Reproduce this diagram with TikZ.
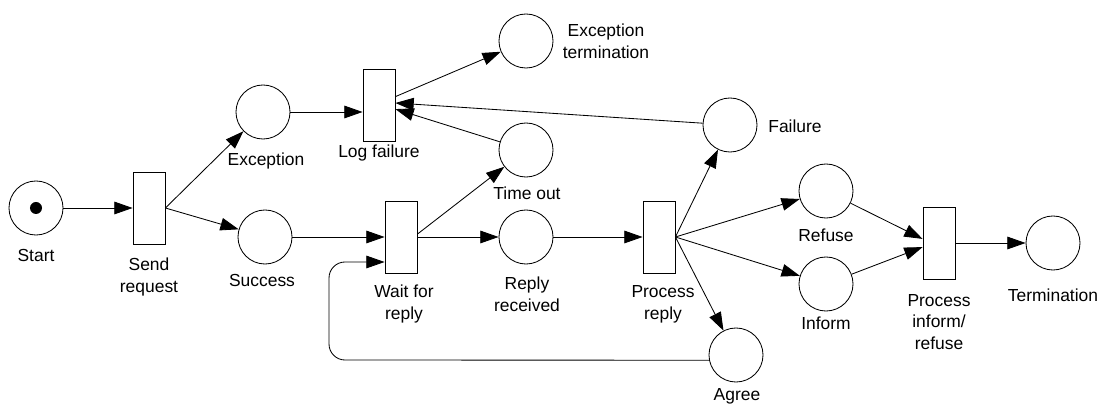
\documentclass[tikz,border=0pt]{standalone}
\usepackage{fontspec}
\setmainfont{Liberation Sans}
\usetikzlibrary{arrows.meta}

\begin{document}
\begin{tikzpicture}[
  x=0.025cm, y=-0.025cm,
  place/.style={circle, draw, line width=0.6pt, minimum size=1.35cm, inner sep=0pt},
  trans/.style={rectangle, draw, line width=0.6pt, minimum width=0.8cm, minimum height=1.8cm, inner sep=0pt},
  lbl/.style={font=\fontsize{12.4pt}{15.4pt}\selectfont, align=center, inner sep=0pt},
  arc/.style={line width=0.6pt, -{Triangle[length=13pt,width=9pt]}},
]
\useasboundingbox (0,0) rectangle (1107,405);

% places
\node[place] (start)  at (36,208)  {};
\node[place] (exc)    at (263,112) {};
\node[place] (succ)   at (265,237) {};
\node[place] (exterm) at (526,41)  {};
\node[place] (tout)   at (526,150) {};
\node[place] (rrec)   at (526,237) {};
\node[place] (fail)   at (730,125) {};
\node[place] (refuse) at (826,191) {};
\node[place] (inform) at (826,284) {};
\node[place] (term)   at (1053,243) {};
\node[place] (agree)  at (736,355) {};

% token in the initial place
\node[circle, fill, minimum size=0.3cm, inner sep=0pt] (token) at (start) {};

% transitions
\node[trans] (send) at (149,208) {};
\node[trans] (logf) at (379,105) {};
\node[trans] (wait) at (401,237) {};
\node[trans] (proc) at (659,237) {};
\node[trans] (pir)  at (939,243) {};

% labels
\node[lbl, anchor=base] (lstart)  at (36,262)   {Start};
\node[lbl]              (lsend)   at (149,277)  {Send\\request};
\node[lbl, anchor=base] (lexc)    at (266,166)  {Exception};
\node[lbl, anchor=base] (lsucc)   at (262,287)  {Success};
\node[lbl, anchor=base] (llogf)   at (379,158)  {Log failure};
\node[lbl]              (lexterm) at (606,41)   {Exception\\termination};
\node[lbl, anchor=base] (ltout)   at (527,200)  {Time out};
\node[lbl]              (lwait)   at (404,304)  {Wait for\\reply};
\node[lbl]              (lrrec)   at (527,294)  {Reply\\received};
\node[lbl]              (lproc)   at (663,304)  {Process\\reply};
\node[lbl, anchor=base] (lfail)   at (795,133)  {Failure};
\node[lbl, anchor=base] (lrefuse) at (826,242)  {Refuse};
\node[lbl, anchor=base] (linform) at (826,330)  {Inform};
\node[lbl]              (lpir)    at (939,322)  {Process\\inform/\\refuse};
\node[lbl, anchor=base] (lterm)   at (1053,302) {Termination};
\node[lbl, anchor=base] (lagree)  at (737,401)  {Agree};

% arcs
\draw[arc] (start) -- (send);
\draw[arc] (send.east) -- (exc);
\draw[arc] (send.east) -- (succ);
\draw[arc] (exc.east) -- (exc.east -| logf.west);
\draw[arc] (logf.27) -- (exterm);
\draw[arc] (fail) -- (logf.7);
\draw[arc] (tout) -- (logf.-14);
\draw[arc] (succ.east) -- (succ.east -| wait.west);
\draw[arc] (wait.10) -- (tout);
\draw[arc] (wait.east |- rrec) -- (rrec);
\draw[arc] (rrec.east) -- (rrec.east -| proc.west);
\draw[arc] (proc.east) -- (fail);
\draw[arc] (proc.east) -- (refuse);
\draw[arc] (proc.east) -- (inform);
\draw[arc] (proc.east) -- (agree);
\draw[arc] (refuse) -- (pir.166);
\draw[arc] (inform) -- (pir.194);
\draw[arc] (pir.east |- term) -- (term);

% feedback arc from Agree back to Wait for reply
\coordinate (loopA) at (329,360);
\coordinate (loopB) at (329,262);
\draw[arc, rounded corners=0.4cm] (agree.191) -- (loopA) -- (loopB) -- (loopB -| wait.west);
\end{tikzpicture}
\end{document}
